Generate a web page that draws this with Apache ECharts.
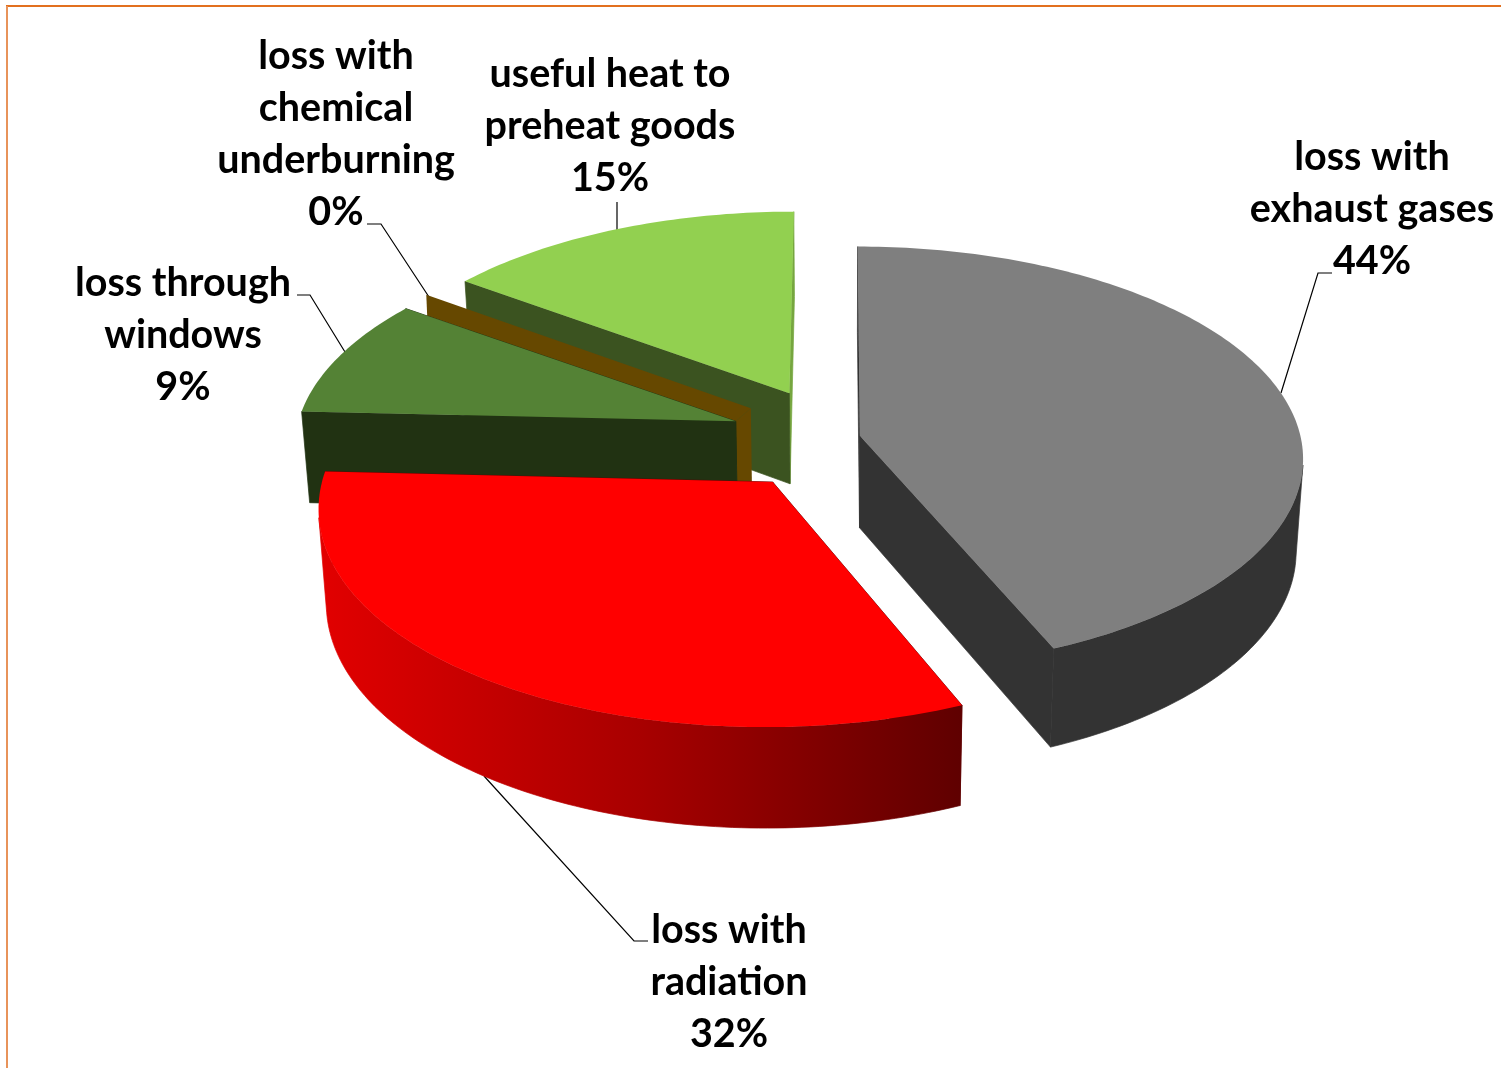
<!DOCTYPE html>
<html>
<head>
<meta charset="utf-8">
<style>html,body{margin:0;padding:0;background:#fff}#c{width:1501px;height:1068px}</style>
<script src="https://cdn.jsdelivr.net/npm/echarts@6/dist/echarts.min.js"></script>
</head>
<body>
<div id="c"></div>
<script>
// ---- data ----
const categories = ['loss with\nexhaust gases', 'loss with\nradiation', 'loss through\nwindows', 'loss with\nchemical\nunderburning', 'useful heat to\npreheat goods'];
const values = [43.6, 32.2, 9.1, 0.25, 14.9];

// ---- styles / layout ----
const explode = [0.053, 0.25, 0.245, 0.245, 0.245];
const topColors = ['#7f7f7f', '#ff0000', '#548235', '#664800', '#92d050'];
const sideColors = ['#333333', null, '#213212', '#664800', '#3b5320'];
const endColors = ['#333333', '#600000', '#213212', '#664800', '#76a63f'];
const drawOrder = [4, 3, 2, 1, 0];
const labelLayout = [
  {x: 1372, y: 209, leader: [[1281, 393], [1318, 273], [1332, 273]]},
  {x: 729, y: 982, leader: [[484, 776], [634, 941], [648, 941]]},
  {x: 183, y: 335, leader: [[345, 352], [310, 295], [297, 295]]},
  {x: 336, y: 134, leader: [[429, 297], [381, 224], [367, 224]]},
  {x: 610, y: 126, leader: [[617, 232], [617, 202]]}
];
const FONT = 'Lato';
const FONT_SIZE = 39.5;
const LINE_H = 52;

// ---- projection of the tilted pie ----
const O = {x: 837, y: 438}, S = 441, ST = 209.5, K = 0.105, H = 92, SHRINK = 0.985;
const total = values.reduce((a, b) => a + b, 0);
const rad = d => d * Math.PI / 180;
function project(X, Z) {
  const w = 1 + K * Z;
  return [O.x + S * X / w, O.y - ST * Z / w];
}
function projectBottom(X, Z) {
  const p = project(X, Z);
  return [O.x + (p[0] - O.x) * SHRINK, O.y + (p[1] - O.y) * SHRINK + H / (1 + K * Z)];
}
const slices = [];
let acc = 0;
values.forEach((v, i) => {
  const a0 = acc / total * 360; acc += v;
  const a1 = acc / total * 360;
  const m = rad((a0 + a1) / 2);
  slices.push({a0, a1, cx: explode[i] * Math.sin(m), cz: explode[i] * Math.cos(m)});
});
function rim(s, deg) { return [s.cx + Math.sin(rad(deg)), s.cz + Math.cos(rad(deg))]; }
function arc(s, fn) {
  const pts = [], n = Math.max(1, Math.ceil(s.a1 - s.a0));
  for (let j = 0; j <= n; j++) {
    const r = rim(s, s.a0 + (s.a1 - s.a0) * j / n);
    pts.push(fn(r[0], r[1]));
  }
  return pts;
}
function poly(points, fill, edge) {
  return {type: 'polygon', shape: {points}, silent: true,
    style: edge ? {fill, stroke: fill, lineWidth: 0.7} : {fill, stroke: null}};
}
function quadArea(a, b, c, d) {
  const q = [a, b, c, d];
  let s = 0;
  for (let i = 0; i < 4; i++) {
    const p = q[i], n = q[(i + 1) % 4];
    s += p[0] * n[1] - n[0] * p[1];
  }
  return s;
}
// the part of the outer wall turned toward the viewer, as one polygon per unbroken run
function wallRuns(top, bot) {
  const runs = [];
  let cur = null;
  for (let j = 0; j + 1 < top.length; j++) {
    if (quadArea(top[j], top[j + 1], bot[j + 1], bot[j]) < 0) {
      if (!cur) cur = {from: j, to: j + 1};
      else cur.to = j + 1;
    } else if (cur) { runs.push(cur); cur = null; }
  }
  if (cur) runs.push(cur);
  return runs.map(r => top.slice(r.from, r.to + 1).concat(bot.slice(r.from, r.to + 1).reverse()));
}
function renderSlice(params) {
  const i = drawOrder[params.dataIndex];
  const s = slices[i];
  const top = arc(s, project), bot = arc(s, projectBottom);
  const cT = project(s.cx, s.cz), cB = projectBottom(s.cx, s.cz);
  const children = [];
  if (values[i] >= 1) {
    // flat faces first, then the outer wall, then the top surface
    children.push(poly([cT, top[top.length - 1], bot[bot.length - 1], cB], endColors[i], true));
    children.push(poly([cT, top[0], bot[0], cB], sideColors[i] || '#5f0000', true));
    let side = sideColors[i];
    if (i === 1) {
      const xs = top.concat(bot).map(p => p[0]);
      side = new echarts.graphic.LinearGradient(Math.min.apply(null, xs), 0, Math.max.apply(null, xs), 0, [
        {offset: 0, color: '#e20000'}, {offset: 0.5, color: '#a80000'}, {offset: 1, color: '#5f0000'}], true);
    }
    wallRuns(top, bot).forEach(pts => children.push(poly(pts, side, true)));
    children.push(poly([cT].concat(top), topColors[i]));
  } else {
    // a near-zero slice shows as a thin band lying along its neighbour
    const n = slices[i - 1];
    const nC = project(n.cx, n.cz), nCB = projectBottom(n.cx, n.cz);
    const nTipR = rim(n, n.a1), nTip = project(nTipR[0], nTipR[1]);
    const t = 0.935;
    const edge = [nC[0] + (nTip[0] - nC[0]) * t, nC[1] + (nTip[1] - nC[1]) * t];
    children.push(poly([nC, cT, cB, nCB], sideColors[i]));
    children.push(poly([cT, top[top.length - 1], edge, nC], topColors[i]));
  }
  return {type: 'group', children};
}
function renderLabel(params) {
  const i = params.dataIndex, L = labelLayout[i];
  const text = categories[i] + '\n' + Math.round(values[i] / total * 100) + '%';
  return {type: 'group', children: [
    {type: 'polyline', shape: {points: L.leader}, style: {stroke: '#000', lineWidth: 1.2, fill: null}, silent: true},
    {type: 'text', silent: true, style: {text, x: L.x, y: L.y, align: 'center', verticalAlign: 'middle',
      fontFamily: FONT, fontWeight: 'bold', fontSize: FONT_SIZE, lineHeight: LINE_H, fill: '#000'}}
  ]};
}
const chart = echarts.init(document.getElementById('c'), null, {renderer: 'canvas'});
chart.setOption({
  animation: false,
  backgroundColor: '#fff',
  graphic: [
    {type: 'line', silent: true, shape: {x1: 6, y1: 6, x2: 1501, y2: 6}, style: {stroke: '#e2701f', lineWidth: 2}},
    {type: 'line', silent: true, shape: {x1: 7, y1: 6, x2: 7, y2: 1068}, style: {stroke: '#e8935a', lineWidth: 2}}
  ],
  series: [
    {type: 'custom', coordinateSystem: 'none', silent: true, renderItem: renderLabel, data: categories.map((c, i) => i), z: 1},
    {type: 'custom', coordinateSystem: 'none', silent: true, renderItem: renderSlice, data: drawOrder.map(i => values[i]), z: 2}
  ]
});
</script>
</body>
</html>
